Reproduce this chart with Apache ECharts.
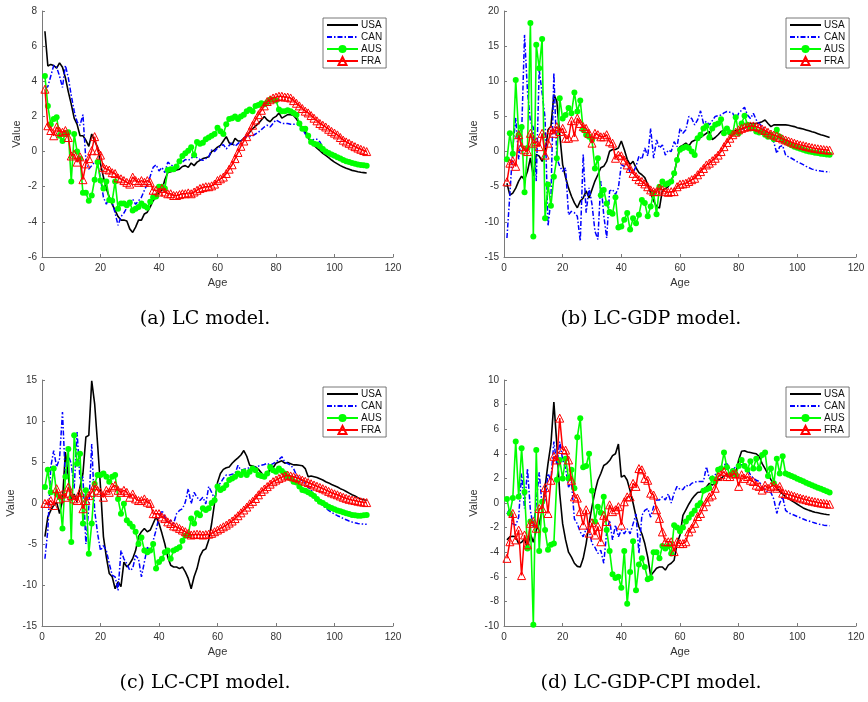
<!DOCTYPE html>
<html>
<head>
<meta charset="utf-8">
<title>LC model coefficients by age</title>
<script src="https://cdn.jsdelivr.net/npm/echarts@6/dist/echarts.min.js"></script>
<style>
  html, body { margin: 0; padding: 0; background: #fff; }
  #chart { width: 868px; height: 702px; }
</style>
</head>
<body>
<div id="chart"></div>
<script>
// ages 1..111 shared by every panel
const ages = Array.from({ length: 111 }, (_, i) => i + 1)
const countries = ['USA', 'CAN', 'AUS', 'FRA']

// (a) LC model
const usaA = [6.85,4.87,4.96,4.9,4.75,5.05,4.8,4.2,3.4,2.7,1.9,1.55,0.9,0.9,0.65,0.3,1.0,0.6,0.25,-0.7,
  -1.45,-2.1,-2.6,-3.0,-3.35,-3.7,-3.9,-3.9,-3.95,-4.4,-4.6,-4.3,-3.9,-3.9,-3.55,-3.45,-3.15,-2.8,-2.6,-2.3,
  -2.2,-1.6,-1.2,-1.15,-1.1,-1.05,-1.0,-0.85,-0.8,-0.9,-0.65,-0.8,-0.6,-0.5,-0.4,-0.35,-0.3,0.0,0.1,0.25,
  0.35,0.6,0.85,0.5,0.4,0.75,0.6,0.6,0.75,0.9,1.1,1.3,1.45,1.6,1.8,2.0,1.8,1.7,1.9,2.0,
  2.2,1.9,2.0,2.1,2.1,2.05,1.85,1.6,1.35,1.1,0.8,0.5,0.35,0.2,0.05,-0.1,-0.22,-0.35,-0.48,-0.6,
  -0.7,-0.8,-0.88,-0.95,-1.01,-1.07,-1.11,-1.15,-1.18,-1.2,-1.22]
const canA = [3.6,3.7,4.3,4.9,4.8,4.3,3.65,4.9,4.2,3.2,2.3,1.7,1.5,2.1,-0.5,-1.0,-0.8,-0.6,-0.7,-1.5,
  -2.6,-3.0,-2.6,-2.9,-3.5,-4.2,-3.7,-3.5,-3.2,-2.9,-2.7,-3.0,-2.8,-2.6,-2.2,-1.85,-1.4,-0.9,-0.75,-1.1,
  -0.9,-1.2,-0.6,-0.75,-0.85,-0.9,-0.7,-0.6,-0.45,-0.5,-0.4,-0.2,-0.35,-0.45,-0.5,-0.4,-0.3,0.1,0.0,0.2,
  0.3,0.4,0.15,0.35,0.5,0.3,0.45,0.6,0.75,0.9,0.85,0.9,1.0,1.1,1.25,1.4,1.5,1.4,1.6,1.8,
  1.7,1.6,1.6,1.6,1.55,1.55,1.55,1.5,1.3,1.0,0.8,0.6,0.7,0.7,0.55,0.25,0.05,-0.08,-0.17,-0.25,
  -0.33,-0.41,-0.49,-0.56,-0.61,-0.66,-0.7,-0.74,-0.77,-0.79,-0.81]
const ausA = [4.3,2.6,1.55,1.85,1.95,0.9,0.6,1.0,1.1,-1.7,1.0,0.0,-0.4,-2.35,-2.35,-2.8,-2.5,-1.6,-0.6,-1.65,
  -2.1,-1.7,-2.75,-2.8,-1.7,-3.25,-2.95,-2.95,-3.05,-2.9,-3.35,-3.25,-3.15,-2.95,-3.1,-3.2,-2.85,-2.6,-2.55,-2.0,
  -2.0,-2.1,-1.05,-1.0,-1.0,-0.85,-0.55,-0.25,-0.1,0.05,0.25,-0.2,0.55,0.45,0.5,0.7,0.8,0.9,1.0,1.35,
  1.15,1.0,1.55,1.85,1.9,2.0,1.85,2.0,2.1,2.3,2.4,2.3,2.6,2.65,2.75,2.7,2.8,2.95,2.95,2.9,
  2.4,2.3,2.3,2.35,2.3,2.2,2.1,1.6,1.3,1.3,0.9,0.55,0.45,0.4,0.3,0.15,0.0,-0.08,-0.16,-0.24,
  -0.32,-0.4,-0.48,-0.55,-0.6,-0.65,-0.69,-0.73,-0.76,-0.78,-0.8]
const fraA = [3.55,1.47,1.2,0.9,1.4,1.15,1.1,1.2,0.8,-0.25,-0.15,-0.6,-0.3,-1.6,-0.7,-0.4,0.05,0.85,0.05,-0.2,
  -0.9,-1.0,-1.05,-1.2,-1.25,-1.5,-1.55,-1.65,-1.75,-1.85,-1.45,-1.65,-1.75,-1.65,-1.75,-1.65,-1.75,-2.2,-2.2,-2.3,
  -2.1,-2.3,-2.4,-2.4,-2.5,-2.5,-2.45,-2.4,-2.4,-2.35,-2.4,-2.3,-2.2,-2.1,-2.05,-2.0,-2.0,-1.95,-1.85,-1.65,
  -1.55,-1.45,-1.25,-1.0,-0.75,-0.4,-0.05,0.3,0.6,0.85,1.15,1.5,1.8,2.1,2.35,2.6,2.85,2.95,3.05,3.1,
  3.15,3.15,3.1,3.1,3.05,2.9,2.75,2.6,2.45,2.3,2.2,2.05,1.9,1.75,1.6,1.5,1.4,1.27,1.15,1.05,
  0.95,0.8,0.65,0.55,0.47,0.37,0.28,0.2,0.13,0.06,0.0]

// (b) LC-GDP model
const usaB = [-4.5,-6.2,-5.9,-5.2,-4.2,-3.5,-4.0,-2.8,-0.9,-3.5,-0.4,-0.65,-1.4,-0.4,3.1,3.6,8.1,7.2,2.4,-1.85,
  -3.7,-5.2,-6.35,-7.3,-8.0,-7.05,-6.6,-5.6,-6.6,-5.4,-4.2,-3.3,-2.3,-2.1,-1.4,0.05,0.3,0.3,0.5,1.5,
  0.3,-1.1,-1.85,-1.4,-2.3,-3.0,-3.3,-3.7,-4.7,-5.9,-7.0,-7.8,-8.05,-5.5,-5.3,-5.0,-4.2,-3.1,-1.2,0.7,
  0.9,1.2,0.8,1.4,1.6,1.8,2.0,2.3,2.6,2.85,1.7,2.0,2.4,2.85,3.0,3.1,3.0,2.85,3.0,3.1,
  3.2,3.3,3.7,4.0,4.0,4.0,4.1,4.26,4.5,4.0,3.55,3.8,3.8,3.8,3.8,3.8,3.75,3.65,3.55,3.4,
  3.3,3.2,3.08,2.95,2.82,2.7,2.55,2.4,2.28,2.15,2.0]
const canB = [-12.3,-6.1,0.5,4.8,-1.1,2.4,16.6,8.6,4.3,3.4,-4.2,11.7,8.3,4.8,-10.6,-6.8,11.2,-0.9,-2.1,-2.8,
  -2.3,-9.0,-8.5,-8.7,-9.2,-12.75,-0.4,-8.7,-5.15,-7.5,-11.3,-12.5,-4.2,-9.0,-12.3,-5.6,-5.4,-6.1,-5.15,-1.85,
  -2.1,-1.85,-3.0,-3.0,-2.1,-0.65,-1.1,0.5,-0.65,3.3,-0.95,1.65,0.5,0.95,-0.5,0.2,0.0,1.4,0.7,3.3,
  2.6,3.1,5.0,4.7,3.8,4.5,5.8,4.0,4.3,3.8,4.4,5.0,5.1,5.2,5.5,5.7,5.6,5.45,4.5,5.45,
  5.9,6.3,5.2,4.7,5.45,4.5,4.0,3.55,3.0,2.6,1.9,1.3,-0.25,0.7,0.85,-0.5,-0.75,-0.95,-1.2,-1.45,
  -1.65,-1.85,-2.1,-2.3,-2.5,-2.62,-2.72,-2.78,-2.83,-2.87,-2.9]
const ausB = [-1.1,2.6,-0.3,10.2,2.4,3.5,-5.8,0.5,18.3,-12.1,15.2,11.85,16.0,-9.5,-4.7,-7.7,-3.6,-0.95,7.6,4.7,
  5.2,6.2,5.45,8.4,5.7,7.25,3.1,2.4,2.1,1.65,-2.4,-0.95,-6.2,-5.45,-7.4,-8.6,-8.85,-6.5,-10.8,-10.65,
  -9.7,-8.75,-11.1,-9.5,-10.2,-9.0,-6.9,-7.3,-9.2,-7.8,-5.9,-8.9,-5.0,-4.25,-4.7,-4.5,-4.25,-3.1,-1.2,0.25,
  0.5,0.7,0.5,0.0,-0.5,1.9,2.4,3.3,3.65,2.0,3.3,3.8,4.0,4.6,2.6,3.3,2.7,2.6,4.9,2.6,
  4.0,5.1,3.8,3.3,3.55,2.85,2.7,2.85,2.4,2.1,2.4,1.75,3.1,2.1,1.6,1.4,1.15,0.9,0.7,0.55,
  0.4,0.25,0.13,0.02,-0.07,-0.15,-0.22,-0.3,-0.35,-0.4,-0.45]
const fraB = [-4.3,-1.65,-1.3,-2.1,2.4,0.7,0.25,0.0,2.6,1.2,1.4,0.7,2.6,-0.5,1.2,3.1,2.6,3.55,2.85,3.3,
  1.9,1.9,4.4,2.1,4.75,4.0,3.55,3.3,2.6,1.2,2.6,2.4,2.1,2.1,2.4,1.4,1.2,-0.95,-0.5,-0.6,
  -1.2,-1.9,-2.4,-3.1,-3.55,-4.0,-4.25,-4.6,-5.0,-5.45,-5.7,-5.7,-5.2,-5.45,-5.7,-5.8,-5.7,-5.7,-5.0,-4.65,
  -4.6,-4.5,-4.25,-4.0,-3.8,-3.3,-2.85,-2.4,-1.9,-1.65,-1.3,-0.95,-0.5,0.0,0.7,1.3,1.9,2.4,2.75,3.1,
  3.3,3.45,3.55,3.65,3.65,3.55,3.4,3.2,3.0,2.75,2.5,2.35,2.2,2.0,1.8,1.65,1.5,1.35,1.2,1.07,
  0.95,0.85,0.75,0.65,0.55,0.47,0.4,0.34,0.28,0.24,0.2]

// (c) LC-CPI model
const usaC = [-4.1,-1.7,-0.9,-0.3,0.1,-1.3,0.3,6.2,3.2,0.3,1.1,0.1,1.95,3.6,8.05,8.25,14.9,12.1,7.2,1.95,
  -4.1,-6.6,-8.6,-9.0,-10.45,-9.6,-10.2,-7.2,-7.8,-7.4,-6.8,-5.8,-4.1,-3.5,-3.1,-3.5,-3.3,-2.5,-1.7,-2.5,
  -3.7,-5.0,-6.6,-7.6,-7.8,-7.8,-8.0,-7.8,-8.4,-9.2,-10.45,-9.0,-8.0,-6.5,-5.8,-5.6,-4.5,-2.5,0.0,2.5,
  3.6,4.1,4.3,4.4,4.85,5.2,5.5,5.85,6.4,5.7,4.6,4.5,4.4,4.1,3.7,3.0,3.6,4.0,4.3,4.85,
  5.0,5.15,4.85,4.95,4.8,4.65,4.65,4.6,4.55,4.2,3.2,3.3,3.2,3.1,2.95,2.8,2.6,2.45,2.25,2.1,
  1.95,1.75,1.6,1.4,1.2,1.0,0.85,0.65,0.5,0.4,0.3]
const canC = [-6.8,-3.3,4.4,6.4,4.4,5.4,11.1,3.0,5.8,4.8,1.75,8.65,2.8,3.2,-5.0,-0.5,7.2,-0.9,-3.7,-5.8,
  -5.2,-5.8,-7.4,-8.8,-9.0,-10.65,-5.8,-6.8,-7.4,-8.2,-8.0,-6.4,-6.8,-9.0,-7.2,-5.4,-5.8,-4.6,-3.3,-1.7,
  -0.9,-1.7,-2.5,-2.1,-2.5,-1.3,-0.9,-0.7,0.1,1.75,-0.1,1.3,0.7,0.3,0.7,-0.1,2.0,1.3,0.5,2.2,
  2.4,3.0,3.4,3.4,3.5,3.6,4.6,4.0,4.1,4.2,4.3,4.4,4.4,4.5,4.6,4.7,4.85,4.6,4.8,5.0,
  5.3,5.65,5.0,4.8,4.6,4.2,3.4,3.0,2.7,2.4,1.9,1.6,1.0,0.6,0.1,-0.3,-0.6,-0.9,-1.15,-1.35,
  -1.55,-1.7,-1.9,-2.05,-2.2,-2.32,-2.42,-2.5,-2.55,-2.58,-2.6]
const ausC = [1.95,4.05,1.3,4.2,1.1,0.7,-3.1,3.2,6.6,-4.75,8.25,4.8,6.0,-2.5,1.55,-6.2,-2.5,2.35,3.4,3.4,
  3.6,3.2,2.6,3.2,3.4,0.5,-1.3,-0.1,-2.1,-2.5,-2.9,-3.5,-5.0,-4.2,-5.8,-6.0,-5.8,-5.0,-8.0,-7.2,
  -6.8,-6.0,-5.8,-6.8,-5.8,-5.6,-5.4,-4.6,-4.0,-3.9,-1.9,-2.5,-1.25,-1.5,-0.65,-0.85,-0.65,0.0,0.35,2.0,
  1.6,1.8,2.2,2.8,3.0,3.2,3.6,3.4,3.8,3.4,3.8,4.2,4.0,3.4,3.3,3.2,3.6,4.4,4.0,3.8,
  4.2,3.9,3.6,3.2,3.0,2.6,2.5,2.0,1.6,1.5,1.3,1.1,0.85,0.5,0.15,0.0,-0.25,-0.45,-0.6,-0.75,
  -0.9,-1.0,-1.12,-1.25,-1.35,-1.45,-1.5,-1.55,-1.55,-1.5,-1.45]
const fraC = [-0.05,-0.05,0.3,-0.3,1.75,0.5,1.1,0.7,1.95,0.9,0.5,0.3,1.3,-0.7,0.3,0.9,1.3,2.15,1.55,1.3,
  0.7,1.55,1.3,1.95,2.15,1.55,1.3,1.55,1.3,0.7,1.1,0.5,0.3,0.3,0.5,0.1,-0.05,-1.3,-1.3,-1.3,
  -1.7,-1.9,-2.3,-2.5,-2.8,-2.9,-3.1,-3.3,-3.5,-3.7,-3.9,-3.85,-3.8,-3.85,-3.9,-3.85,-3.8,-3.7,-3.5,-3.3,
  -3.1,-2.9,-2.7,-2.45,-2.2,-1.9,-1.55,-1.2,-0.85,-0.5,-0.1,0.2,0.55,1.0,1.4,1.7,2.0,2.3,2.6,2.8,
  3.0,3.15,3.3,3.4,3.3,3.2,3.1,2.95,2.8,2.65,2.5,2.35,2.2,2.05,1.9,1.75,1.6,1.42,1.25,1.12,
  1.0,0.85,0.7,0.57,0.45,0.37,0.3,0.22,0.15,0.1,0.05]

// (d) LC-GDP-CPI model
const usaD = [-3.0,-2.75,-2.7,-2.75,-3.3,-3.2,-2.9,-3.6,-2.5,-3.2,-2.2,-1.7,-0.6,1.3,3.2,4.8,8.2,4.8,0.75,-1.7,
  -3.0,-4.0,-4.4,-4.9,-5.15,-5.2,-4.5,-3.3,-1.7,-0.3,0.9,1.85,2.4,3.05,3.2,3.45,3.85,4.0,4.8,2.1,
  2.25,1.85,1.0,0.0,-1.1,-1.95,-2.5,-3.3,-4.4,-5.9,-5.6,-5.3,-5.2,-5.2,-5.45,-5.05,-4.9,-4.65,-3.3,-2.6,
  -1.0,-0.55,-0.1,0.3,0.6,0.85,0.9,1.1,1.3,1.6,1.45,1.6,1.85,2.0,2.2,2.3,2.15,2.3,2.4,3.5,
  4.2,4.25,4.15,4.1,4.05,4.0,3.8,3.2,2.8,2.35,1.9,1.5,1.2,0.95,0.75,0.5,0.35,0.2,0.05,-0.1,
  -0.25,-0.4,-0.5,-0.6,-0.68,-0.75,-0.8,-0.85,-0.9,-0.93,-0.95]
const canD = [-0.9,-0.45,-1.7,-1.8,-1.15,2.4,-0.45,2.8,-0.6,-1.95,0.0,2.5,-0.3,0.25,2.4,1.85,5.0,3.1,5.0,3.5,
  2.8,1.3,1.7,-1.3,-1.7,-2.35,-2.75,-2.1,-2.2,-3.3,-3.6,-4.1,-3.85,-4.9,-2.35,-1.4,-3.0,-1.8,-2.75,-2.2,
  -2.5,-2.1,-2.5,-1.7,-0.9,-4.1,-1.0,-0.6,-0.45,-1.15,-0.3,0.25,0.25,0.5,0.25,0.75,0.0,0.8,1.35,1.1,
  1.1,1.45,1.35,1.6,1.7,1.75,1.75,1.75,2.95,2.0,2.15,2.3,2.6,2.95,3.1,3.2,2.8,2.7,2.95,3.1,
  3.1,3.0,2.7,2.3,2.0,1.85,1.75,1.35,1.05,0.9,0.85,0.3,-0.85,0.0,0.5,-0.6,-0.8,-0.9,-1.0,-1.1,
  -1.2,-1.3,-1.4,-1.47,-1.55,-1.62,-1.7,-1.75,-1.8,-1.82,-1.85]
const ausD = [0.33,-0.85,0.4,5.0,0.5,4.45,0.9,-3.7,-1.5,-9.9,4.3,-3.9,0.1,-2.2,-3.8,-3.4,-3.3,1.9,3.5,2.0,
  3.6,2.0,2.7,1.2,5.35,6.9,2.9,3.0,4.0,1.0,-1.5,-0.3,-0.8,0.5,-2.2,-3.9,-5.8,-6.1,-6.0,-6.9,
  -3.9,-8.2,-5.6,-3.1,-7.1,-5.0,-4.5,-5.2,-6.2,-6.1,-4.0,-4.0,-4.5,-3.5,-3.7,-3.5,-4.1,-1.8,-2.0,-2.3,
  -2.0,-1.5,-1.2,-0.9,-0.6,-0.2,0.0,1.0,1.1,1.2,2.0,1.7,2.7,2.8,4.1,2.9,2.3,2.6,2.3,3.0,
  3.5,3.0,2.7,3.4,2.8,3.6,2.8,3.9,4.1,2.2,2.8,1.6,3.6,2.4,3.8,2.4,2.3,2.2,2.1,1.98,
  1.87,1.76,1.65,1.55,1.45,1.35,1.25,1.15,1.05,0.95,0.85]
const fraD = [-4.5,-3.15,-0.85,-3.0,-2.2,-5.9,-2.6,-3.4,-1.65,-1.5,-2.05,-0.45,-0.45,1.25,-0.85,1.85,3.8,3.5,6.9,4.35,
  4.3,3.5,1.85,0.5,0.4,-0.7,-1.8,-0.55,-2.45,-1.6,-2.6,-1.9,-3.15,-1.0,-1.5,-0.15,-0.7,-0.55,-0.3,-1.8,
  0.1,0.5,0.5,1.6,1.35,2.8,2.7,2.0,1.85,0.8,0.65,-0.55,-1.25,-2.35,-3.15,-3.15,-3.15,-3.95,-3.15,-3.3,
  -3.3,-3.15,-2.35,-2.05,-1.65,-1.1,-0.85,-0.3,0.1,0.5,0.65,1.2,2.15,2.3,2.55,2.15,2.15,2.35,2.4,1.35,
  2.3,2.0,2.15,1.85,1.75,1.45,1.35,1.05,1.45,1.2,1.35,1.45,1.2,1.35,0.8,0.75,0.7,0.62,0.55,0.47,
  0.4,0.33,0.27,0.2,0.15,0.1,0.05,0.0,-0.03,-0.06,-0.1]

// y-axis ranges per panel (min must be a multiple of interval)
const yRanges = [
  { min: -6, max: 8, interval: 2 },
  { min: -15, max: 20, interval: 5 },
  { min: -15, max: 15, interval: 5 },
  { min: -10, max: 10, interval: 2 }
]
const captions = ['(a) LC model.', '(b) LC-GDP model.', '(c) LC-CPI model.', '(d) LC-GDP-CPI model.']
const panelData = [
  [usaA, canA, ausA, fraA],
  [usaB, canB, ausB, fraB],
  [usaC, canC, ausC, fraC],
  [usaD, canD, ausD, fraD]
]

// plot boxes, in pixels
const grids = [
  { left: 42, top: 11, width: 351, height: 246 },
  { left: 504, top: 11, width: 352, height: 246 },
  { left: 42, top: 380, width: 351, height: 246 },
  { left: 504, top: 380, width: 352, height: 246 }
]
const yNameGaps = [20, 25, 26, 25]
const captionPos = [[205, 319], [651, 319], [205, 683], [651, 683]]

const axisColor = '#7a7a7a'
const labelColor = '#333'
const sansFont = 'Liberation Sans, Arial, sans-serif'

const seriesStyle = {
  USA: { color: '#000000', lineStyle: { width: 1.6, color: '#000000' }, symbol: 'none' },
  CAN: { color: '#0000ff', lineStyle: { width: 1.5, color: '#0000ff', type: [5, 2, 1.5, 2] }, symbol: 'none' },
  AUS: {
    color: '#00ff00',
    lineStyle: { width: 1.6, color: '#00ff00' },
    symbol: 'circle',
    symbolSize: 6,
    itemStyle: { color: '#00ff00' }
  },
  FRA: {
    color: '#ff0000',
    lineStyle: { width: 1.5, color: '#ff0000' },
    symbol: 'triangle',
    symbolSize: 8,
    itemStyle: { color: 'rgba(255,255,255,0)', borderColor: '#ff0000', borderWidth: 1 }
  }
}

const chart = echarts.init(document.getElementById('chart'), null, { renderer: 'canvas' })

const xAxes = grids.map((g, i) => ({
  gridIndex: i,
  type: 'value',
  min: 0,
  max: 120,
  interval: 20,
  name: 'Age',
  nameLocation: 'middle',
  nameGap: 20,
  nameTextStyle: { color: labelColor, fontSize: 11, fontFamily: sansFont },
  axisLine: { show: true, onZero: false, lineStyle: { color: axisColor, width: 1 } },
  axisTick: { show: true, inside: true, length: 3, lineStyle: { color: axisColor } },
  axisLabel: { color: labelColor, fontSize: 10, fontFamily: sansFont, margin: 6 },
  splitLine: { show: false }
}))

const yAxes = grids.map((g, i) => ({
  gridIndex: i,
  type: 'value',
  min: yRanges[i].min,
  max: yRanges[i].max,
  interval: yRanges[i].interval,
  name: 'Value',
  nameLocation: 'middle',
  nameRotate: 90,
  nameGap: yNameGaps[i],
  nameTextStyle: { color: labelColor, fontSize: 11, fontFamily: sansFont },
  axisLine: { show: true, onZero: false, lineStyle: { color: axisColor, width: 1 } },
  axisTick: { show: true, inside: true, length: 3, lineStyle: { color: axisColor } },
  axisLabel: { color: labelColor, fontSize: 10, fontFamily: sansFont, margin: 5 },
  splitLine: { show: false }
}))

const series = []
panelData.forEach((vals, p) => {
  vals.forEach((arr, k) => {
    const name = countries[k]
    series.push({
      name: name,
      type: 'line',
      xAxisIndex: p,
      yAxisIndex: p,
      data: ages.map((a, i) => [a, arr[i]]),
      showSymbol: seriesStyle[name].symbol !== 'none',
      showAllSymbol: true,
      symbol: seriesStyle[name].symbol,
      symbolSize: seriesStyle[name].symbolSize,
      color: seriesStyle[name].color,
      lineStyle: seriesStyle[name].lineStyle,
      itemStyle: seriesStyle[name].itemStyle,
      emphasis: { disabled: true },
      z: 2 + k
    })
  })
})

// legend entries: plain lines carry no marker
const noMarker = { color: 'rgba(0,0,0,0)', borderWidth: 0, opacity: 0 }
const legendItems = [
  { name: 'USA', itemStyle: noMarker },
  { name: 'CAN', itemStyle: noMarker },
  { name: 'AUS' },
  { name: 'FRA' }
]

// one boxed legend per panel, top right inside the plot
const legends = grids.map((g) => ({
  data: legendItems,
  orient: 'vertical',
  left: g.left + g.width - 8 - 62,
  top: g.top + 7,
  itemWidth: 31,
  itemHeight: 10,
  itemGap: 2,
  padding: [2, 4, 2, 3],
  borderColor: '#555',
  borderWidth: 0.8,
  backgroundColor: '#fff',
  selectedMode: false,
  textStyle: { fontSize: 10, lineHeight: 10, color: '#111', fontFamily: sansFont, padding: [0, 0, 0, -2] }
}))

const captionTexts = captions.map((c, i) => ({
  type: 'text',
  x: captionPos[i][0],
  y: captionPos[i][1],
  style: {
    text: c,
    font: '19px "DejaVu Serif", serif',
    fill: '#000',
    textAlign: 'center',
    textVerticalAlign: 'middle'
  }
}))

chart.setOption({
  animation: false,
  backgroundColor: '#ffffff',
  grid: grids.map((g) => ({ left: g.left, top: g.top, width: g.width, height: g.height, containLabel: false })),
  xAxis: xAxes,
  yAxis: yAxes,
  legend: legends,
  series: series,
  graphic: captionTexts
})
</script>
</body>
</html>
